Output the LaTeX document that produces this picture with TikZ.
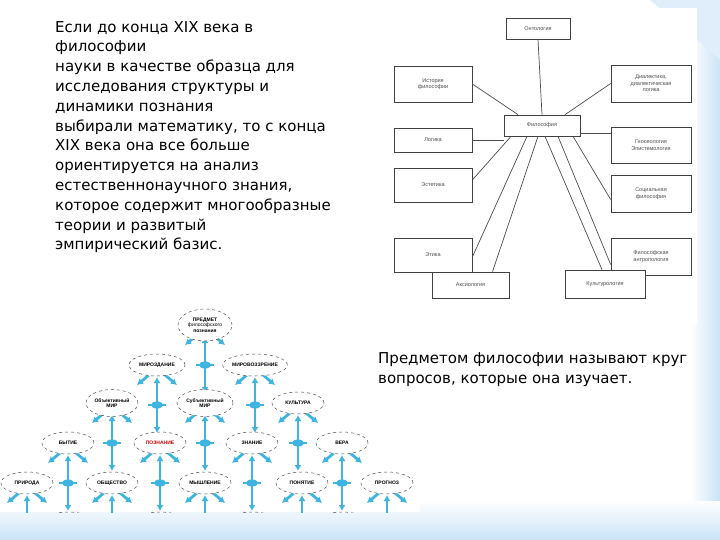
\documentclass[tikz,border=0pt]{standalone}
\usepackage{fontspec}
\setmainfont{Liberation Sans}
\newfontfamily\bodyfont{DejaVu Sans}
\usetikzlibrary{shapes.geometric,arrows.meta}
\definecolor{bluebg}{HTML}{C9E3F6}
\definecolor{arrc}{HTML}{3DB5E0}
\tikzset{
  box/.style={draw=black!75,line width=0.7pt,fill=white,font=\fontsize{5.5}{6.5}\selectfont,text=black!70,align=center,inner sep=1pt},
  conn/.style={draw=black!70,line width=0.7pt},
  ell/.style={ellipse,draw=black!70,dashed,line width=0.5pt,fill=white,font=\bfseries\fontsize{5}{5.5}\selectfont,align=center,inner sep=0pt,minimum width=52pt,minimum height=22pt},
  carr/.style={draw=arrc,line width=2.8pt,-{Latex[length=6pt,width=7pt]}},
  carrd/.style={draw=arrc,line width=2.8pt,{Latex[length=6pt,width=7pt]}-{Latex[length=6pt,width=7pt]}},
  body/.style={font=\bodyfont\fontsize{15}{19.8}\selectfont,align=left,anchor=north west,inner sep=0pt}
}
\begin{document}
\begin{tikzpicture}[x=1pt,y=-1pt]
\useasboundingbox (0,0) rectangle (720,540);
% background
\fill[white] (0,0) rectangle (720,540);
\shade[top color=white,bottom color=bluebg] (0,500) rectangle (720,540);
\shade[left color=white,right color=bluebg] (690,0) rectangle (720,500);
\fill[bluebg!60] (650,0) -- (720,0) -- (720,60) -- cycle;
% left text
\node[body] (txt) at (55,21) {Если до конца XIX века в\\философии\\науки в качестве образца для\\исследования структуры и\\динамики познания\\выбирали математику, то с конца\\XIX века она все больше\\ориентируется на анализ\\естественнонаучного знания,\\которое содержит многообразные\\теории и развитый\\эмпирический базис.};
% right diagram
\fill[white] (387,8) rectangle (697,325);
\node[box,minimum width=64pt,minimum height=21pt] (ont) at (538,28.5) {Онтология};
\node[box,minimum width=78pt,minimum height=36pt] (ist) at (433,84) {История\\философии};
\node[box,minimum width=80pt,minimum height=37pt] (dia) at (651,83.5) {Диалектика,\\диалектическая\\логика};
\node[box,minimum width=76pt,minimum height=21pt] (fil) at (542,125.5) {Философия};
\node[box,minimum width=78pt,minimum height=24pt] (log) at (433,140) {Логика};
\node[box,minimum width=80pt,minimum height=36pt] (gno) at (651,145) {Гносеология\\Эпистемология};
\node[box,minimum width=78pt,minimum height=34pt] (est) at (433,185) {Эстетика};
\node[box,minimum width=80pt,minimum height=37pt] (soc) at (651,193.5) {Социальная\\философия};
\node[box,minimum width=78pt,minimum height=34pt] (eti) at (433,255) {Этика};
\node[box,minimum width=80pt,minimum height=37pt] (ant) at (651,256.5) {Философская\\антропология};
\node[box,minimum width=77pt,minimum height=26pt] (aks) at (470.5,285) {Аксиология};
\node[box,minimum width=80pt,minimum height=28pt] (kul) at (605,284) {Культурология};
\draw[conn] (fil.north) -- (ont.south);
\draw[conn] ([xshift=-24pt]fil.north) -- (ist.east);
\draw[conn] ([xshift=23pt]fil.north) -- (dia.west);
\draw[conn] (log.east) -- (fil.west |- log.east);
\draw[conn] (fil.east) ++(0,7.5) coordinate (g1) (g1) -- (gno.west |- g1);
\draw[conn] ([xshift=-31pt]fil.south) -- ([yshift=5pt]est.east);
\draw[conn] ([xshift=31pt]fil.south) -- ([yshift=-6pt]soc.west);
\draw[conn] ([xshift=-15pt]fil.south) -- ([yshift=-2pt]eti.east);
\draw[conn] ([xshift=16pt]fil.south) -- ([yshift=-8pt]ant.west);
\draw[conn] ([xshift=-4pt]fil.south) -- ([xshift=22pt]aks.north);
\draw[conn] ([xshift=3pt]fil.south) -- ([xshift=-3pt]kul.north);
% bottom-left diagram
\fill[white] (0,308) rectangle (420,512);
\begin{scope}
\clip (0,308) rectangle (420,512);
\foreach \x/\y in {205/325,157/365,255/365,112/403,205/403,298/403,68/443,160/443,252/443,342/443,27/483,112/483,205/483,302/483,387/483}{
  \draw[carr] (\x-8,\y+10) -- (\x-20,\y+20);
  \draw[carr] (\x+8,\y+10) -- (\x+20,\y+20);
  \draw[carrd] (\x,\y+12) -- (\x,\y+68);
  \fill[arrc] (\x,\y+40) ellipse (6pt and 3.5pt);
  \draw[draw=arrc,line width=2pt] (\x-9,\y+40) -- (\x+9,\y+40);
}
\node[ell,minimum width=54pt,minimum height=32pt] (e1) at (205,325) {ПРЕДМЕТ\\\mdseries философского\\\bfseries познания};
\node[ell,minimum width=56pt] (e2) at (157,365) {МИРОЗДАНИЕ};
\node[ell,minimum width=60pt] (e3) at (255,365) {МИРОВОЗЗРЕНИЕ};
\node[ell,minimum height=27pt] (e4) at (112,403) {Объективный\\МИР};
\node[ell,minimum width=56pt,minimum height=27pt] (e5) at (205,403) {Субъективный\\МИР};
\node[ell] (e6) at (298,403) {КУЛЬТУРА};
\node[ell] (e7) at (68,443) {БЫТИЕ};
\node[ell,text=red!80!black] (e8) at (160,443) {ПОЗНАНИЕ};
\node[ell] (e9) at (252,443) {ЗНАНИЕ};
\node[ell] (e10) at (342,443) {ВЕРА};
\node[ell] (e11) at (27,483) {ПРИРОДА};
\node[ell] (e12) at (112,483) {ОБЩЕСТВО};
\node[ell] (e13) at (205,483) {МЫШЛЕНИЕ};
\node[ell] (e14) at (302,483) {ПОНЯТИЕ};
\node[ell] (e15) at (387,483) {ПРОГНОЗ};
\foreach \x in {68,160,252,342}{\node[ell] at (\x,523) {};}
\end{scope}
\node[body,font=\bodyfont\fontsize{15}{20}\selectfont] (txt2) at (378,352) {Предметом философии называют круг\\вопросов, которые она изучает.};
\end{tikzpicture}
\end{document}
